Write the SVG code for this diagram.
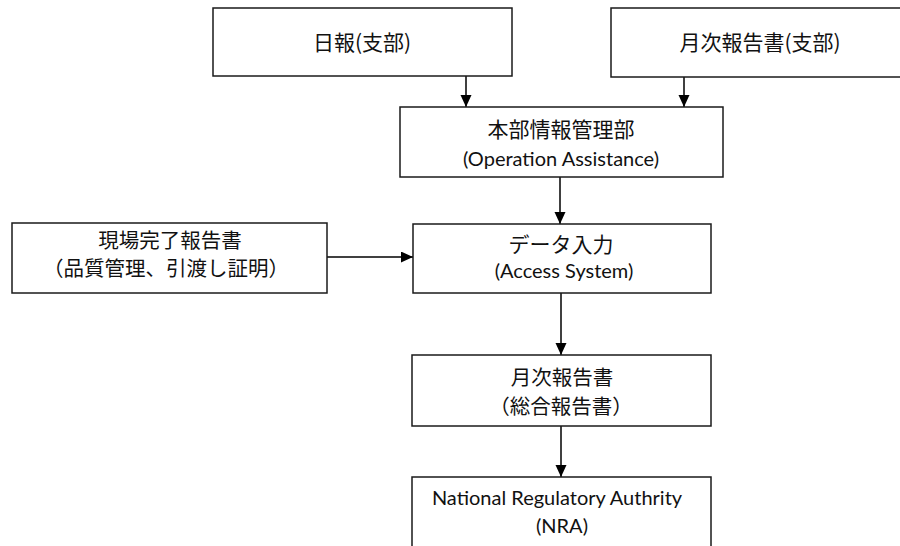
<svg xmlns="http://www.w3.org/2000/svg" width="900" height="546" viewBox="0 0 900 546">
  <style>
    .box { fill: #ffffff; stroke: #1a1a1a; stroke-width: 1.5; }
    .jp { font-family: "Noto Sans CJK JP", "Noto Sans", sans-serif; font-size: 21px; fill: #111111; text-anchor: middle; }
    .jp2 { font-family: "Noto Sans CJK JP", "Noto Sans", sans-serif; font-size: 20.5px; fill: #111111; text-anchor: middle; }
    .en { font-family: Lato, "Liberation Sans", sans-serif; font-size: 20px; fill: #111111; text-anchor: middle; }
    .conn { stroke: #000000; stroke-width: 1.5; fill: none; marker-end: url(#arrow); }
  </style>
  <defs>
    <marker id="arrow" markerUnits="userSpaceOnUse" markerWidth="12" markerHeight="12" refX="12" refY="5.5" orient="auto">
      <path d="M0,0 L12,5.5 L0,11 Z" fill="#000000"/>
    </marker>
  </defs>
  <rect width="900" height="546" fill="#ffffff"/>

  <!-- connectors -->
  <g id="connectors">
    <line class="conn" x1="466" y1="76" x2="466" y2="107"/>
    <line class="conn" x1="684" y1="77" x2="684" y2="107"/>
    <line class="conn" x1="560" y1="177" x2="560" y2="224"/>
    <line class="conn" x1="327" y1="257" x2="413" y2="257"/>
    <line class="conn" x1="561" y1="293" x2="561" y2="355"/>
    <line class="conn" x1="561" y1="426" x2="561" y2="477"/>
  </g>

  <g id="daily-report">
    <rect class="box" x="213" y="8" width="299" height="68"/>
    <text class="jp" x="362" y="50">日報(支部)</text>
  </g>

  <g id="branch-monthly-report">
    <rect class="box" x="611" y="8" width="310" height="69"/>
    <text class="jp" x="760" y="50">月次報告書(支部)</text>
  </g>

  <g id="hq-info-management">
    <rect class="box" x="400" y="107" width="323" height="70"/>
    <text class="jp" x="561" y="137">本部情報管理部</text>
    <text class="en" x="561" y="166">(Operation Assistance)</text>
  </g>

  <g id="site-completion-report">
    <rect class="box" x="12" y="223" width="315" height="70"/>
    <text class="jp2" x="170" y="248">現場完了報告書</text>
    <text class="jp2" x="166" y="276">（品質管理、引渡し証明）</text>
  </g>

  <g id="data-entry">
    <rect class="box" x="413" y="224" width="298" height="69"/>
    <text class="jp" x="561" y="252">データ入力</text>
    <text class="en" x="564" y="278">(Access System)</text>
  </g>

  <g id="monthly-report">
    <rect class="box" x="412" y="355" width="299" height="71"/>
    <text class="jp2" x="562" y="385">月次報告書</text>
    <text class="jp2" x="561" y="414">（総合報告書）</text>
  </g>

  <g id="nra">
    <rect class="box" x="412" y="477" width="299" height="90"/>
    <text class="en" x="557" y="505">National Regulatory Authrity</text>
    <text class="en" x="562" y="533">(NRA)</text>
  </g>
</svg>
